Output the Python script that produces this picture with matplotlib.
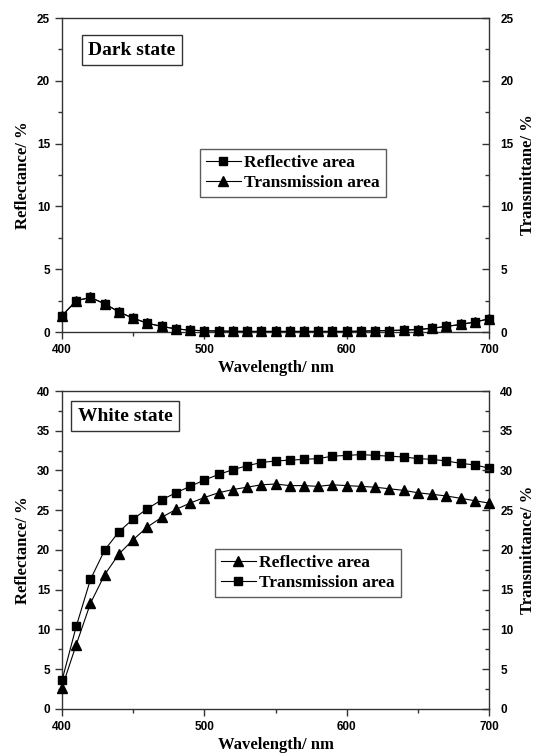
import matplotlib
matplotlib.use("Agg")
import matplotlib.pyplot as plt
from matplotlib.ticker import MultipleLocator

# wavelength grid (nm)
wavelength = [400, 410, 420, 430, 440, 450, 460, 470, 480, 490, 500,
              510, 520, 530, 540, 550, 560, 570, 580, 590, 600,
              610, 620, 630, 640, 650, 660, 670, 680, 690, 700]

# dark state (%)
dark_reflective = [1.3, 2.5, 2.75, 2.25, 1.6, 1.1, 0.7, 0.45, 0.25, 0.15, 0.1,
                   0.08, 0.06, 0.05, 0.05, 0.05, 0.05, 0.05, 0.05, 0.05, 0.05,
                   0.07, 0.1, 0.12, 0.15, 0.2, 0.3, 0.45, 0.6, 0.8, 1.05]
dark_transmission = [1.3, 2.5, 2.75, 2.25, 1.6, 1.1, 0.7, 0.45, 0.25, 0.15, 0.1,
                     0.08, 0.06, 0.05, 0.05, 0.05, 0.05, 0.05, 0.05, 0.05, 0.05,
                     0.07, 0.1, 0.12, 0.15, 0.2, 0.3, 0.45, 0.6, 0.8, 1.05]

# white state (%)
white_reflective = [2.7, 8.1, 13.3, 16.9, 19.5, 21.3, 22.9, 24.1, 25.1, 25.9, 26.6,
                    27.2, 27.6, 27.9, 28.2, 28.3, 28.1, 28.1, 28.0, 28.2, 28.1,
                    28.0, 27.9, 27.7, 27.5, 27.2, 27.0, 26.8, 26.5, 26.2, 25.9]
white_transmission = [3.6, 10.4, 16.3, 20.0, 22.3, 23.9, 25.2, 26.3, 27.2, 28.0, 28.8,
                      29.5, 30.1, 30.6, 31.0, 31.2, 31.3, 31.4, 31.5, 31.8, 31.9,
                      32.0, 31.9, 31.8, 31.7, 31.5, 31.4, 31.2, 30.9, 30.7, 30.3]

SERIF = "Liberation Serif"
SANS = "Liberation Sans"

fig = plt.figure(figsize=(5.45, 7.56), dpi=100)


def style_axes(ax, ymax, right_label):
    ax.set_xlim(400, 700)
    ax.set_ylim(0, ymax)
    ax.xaxis.set_major_locator(MultipleLocator(100))
    ax.xaxis.set_minor_locator(MultipleLocator(50))
    ax.yaxis.set_major_locator(MultipleLocator(5))
    ax.yaxis.set_minor_locator(MultipleLocator(2.5))
    ax.tick_params(which="both", direction="out", top=False, right=False,
                   width=1, colors="#333333", labelcolor="black")
    ax.tick_params(which="major", length=5, labelsize=8.5)
    ax.tick_params(which="minor", length=3)
    for lab in ax.get_xticklabels() + ax.get_yticklabels():
        lab.set_fontfamily(SANS)
        lab.set_fontweight("bold")
    for sp in ax.spines.values():
        sp.set_linewidth(1.0)
        sp.set_color("#333333")
    ax.set_xlabel("Wavelength/ nm", family=SERIF, weight="bold", fontsize=12, labelpad=3)
    ax.set_ylabel("Reflectance/ %", family=SERIF, weight="bold", fontsize=12, labelpad=4)

    ax2 = ax.twinx()
    ax2.set_ylim(0, ymax)
    ax2.yaxis.set_major_locator(MultipleLocator(5))
    ax2.yaxis.set_minor_locator(MultipleLocator(2.5))
    ax2.tick_params(which="both", direction="in", width=1, colors="#333333",
                    labelcolor="black", pad=8)
    ax2.tick_params(which="major", length=5, labelsize=8.5)
    ax2.tick_params(which="minor", length=3)
    for lab in ax2.get_yticklabels():
        lab.set_fontfamily(SANS)
        lab.set_fontweight("bold")
    for sp in ax2.spines.values():
        sp.set_visible(False)
    ax2.set_ylabel(right_label, family=SERIF, weight="bold", fontsize=12, labelpad=5)
    return ax2


line_kw = dict(color="black", linewidth=0.8, clip_on=False, zorder=3)
SQ = 5.5
TRI = 7

# ---- dark state ----
ax1 = fig.add_axes([0.1138, 0.5608, 0.7835, 0.4153])
ax1.plot(wavelength, dark_reflective, marker="s", markersize=SQ,
         label="Reflective area", **line_kw)
ax1.plot(wavelength, dark_transmission, marker="^", markersize=TRI,
         label="Transmission area", **line_kw)
style_axes(ax1, 25, "Transmittane/ %")
ax1.text(0.164, 0.898, "Dark state", transform=ax1.transAxes, ha="center", va="center",
         family=SERIF, weight="bold", fontsize=14,
         bbox=dict(boxstyle="square,pad=0.35", fc="white", ec="#333333", lw=1))
leg1 = ax1.legend(loc="lower left", bbox_to_anchor=(0.323, 0.43), frameon=True,
                  fancybox=False, prop={"family": SERIF, "weight": "bold", "size": 12.5},
                  handlelength=2.0, handletextpad=0.2, borderpad=0.35,
                  labelspacing=0.2, borderaxespad=0)
leg1.get_frame().set_edgecolor("#333333")
leg1.get_frame().set_linewidth(1)

# ---- white state ----
ax3 = fig.add_axes([0.1138, 0.0622, 0.7835, 0.4206])
ax3.plot(wavelength, white_reflective, marker="^", markersize=TRI,
         label="Reflective area", **line_kw)
ax3.plot(wavelength, white_transmission, marker="s", markersize=SQ,
         label="Transmission area", **line_kw)
style_axes(ax3, 40, "Transmittance/ %")
ax3.text(0.148, 0.921, "White state", transform=ax3.transAxes, ha="center", va="center",
         family=SERIF, weight="bold", fontsize=14,
         bbox=dict(boxstyle="square,pad=0.35", fc="white", ec="#333333", lw=1))
leg2 = ax3.legend(loc="lower left", bbox_to_anchor=(0.358, 0.352), frameon=True,
                  fancybox=False, prop={"family": SERIF, "weight": "bold", "size": 12.5},
                  handlelength=2.0, handletextpad=0.2, borderpad=0.35,
                  labelspacing=0.2, borderaxespad=0)
leg2.get_frame().set_edgecolor("#333333")
leg2.get_frame().set_linewidth(1)

fig.savefig("out.png", dpi=100)
